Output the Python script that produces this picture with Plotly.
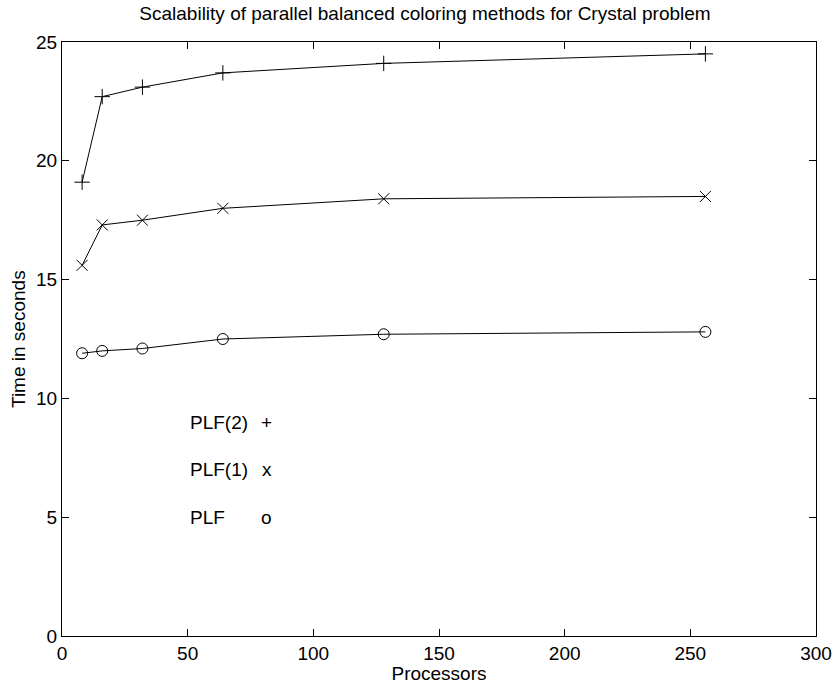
import plotly.graph_objects as go

processors = [8, 16, 32, 64, 128, 256]
plf2 = [19.1, 22.7, 23.1, 23.7, 24.1, 24.5]
plf1 = [15.6, 17.3, 17.5, 18.0, 18.4, 18.5]
plf = [11.9, 12.0, 12.1, 12.5, 12.7, 12.8]

legend_names = ["PLF(2)", "PLF(1)", "PLF"]
legend_syms = ["+", "x", "o"]
legend_y = [9, 7, 5]
legend_x_name = 50
legend_x_sym = 81.5

x_ticks = [0, 50, 100, 150, 200, 250, 300]
y_ticks = [0, 5, 10, 15, 20, 25]

FONT = "Liberation Sans, Arial, sans-serif"
FS = 19

fig = go.Figure()
series = [(plf2, "cross-thin-open"), (plf1, "x-thin-open"), (plf, "circle-open")]
for ys, sym in series:
    fig.add_trace(go.Scatter(
        x=processors, y=ys, mode="lines+markers",
        line=dict(color="black", width=1),
        marker=dict(symbol=sym, size=11, color="black", line=dict(color="black", width=1)),
        showlegend=False, hoverinfo="skip", cliponaxis=False,
    ))

for name, sym, yv in zip(legend_names, legend_syms, legend_y):
    fig.add_annotation(x=legend_x_name, y=yv, text=name, showarrow=False,
                       xanchor="left", yanchor="middle",
                       font=dict(family=FONT, size=FS, color="black"))
    fig.add_annotation(x=legend_x_sym, y=yv, text=sym, showarrow=False,
                       xanchor="center", yanchor="middle",
                       font=dict(family=FONT, size=FS, color="black"))

# y-axis title placed as rotated annotation
fig.add_annotation(xref="paper", yref="paper", x=(18 - 62) / 754, y=0.5,
                   text="Time in seconds", textangle=-90, showarrow=False,
                   xanchor="center", yanchor="middle",
                   font=dict(family=FONT, size=FS, color="black"))

axis_common = dict(
    showline=True, linecolor="black", linewidth=1, mirror="ticks",
    ticks="inside", ticklen=7, tickcolor="black", tickwidth=1,
    showgrid=False, zeroline=False, automargin=False,
    tickfont=dict(family=FONT, size=FS, color="black"),
)
fig.update_xaxes(range=[0, 300], tickvals=x_ticks, title=dict(text="Processors", standoff=1,
                 font=dict(family=FONT, size=FS, color="black")), **axis_common)
fig.update_yaxes(range=[0, 25], tickvals=y_ticks, **axis_common)

fig.update_layout(
    width=834, height=684,
    margin=dict(l=62, r=18, t=42, b=48, autoexpand=False),
    paper_bgcolor="white", plot_bgcolor="white",
    title=dict(text="Scalability of parallel balanced coloring methods for Crystal problem",
               x=425 / 834, xanchor="center", y=1 - 13 / 684, yanchor="middle",
               font=dict(family=FONT, size=FS, color="black")),
)

fig.write_html("out.html")
